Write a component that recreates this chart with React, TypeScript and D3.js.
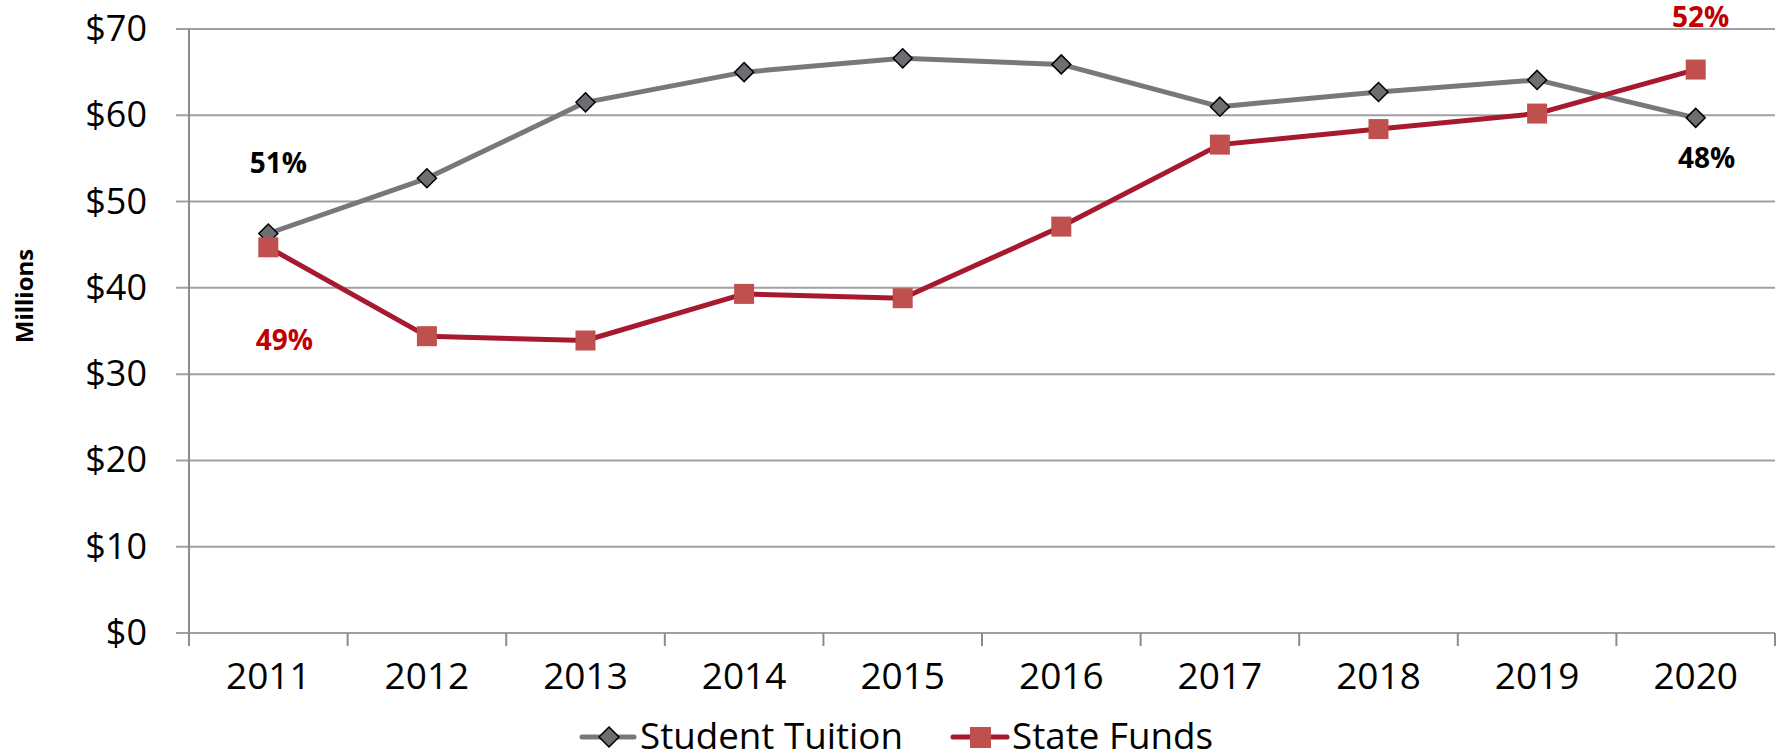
import React from "react";
import * as d3 from "d3";

const years = ["2011", "2012", "2013", "2014", "2015", "2016", "2017", "2018", "2019", "2020"];
const tuition = [46.3, 52.7, 61.5, 65.0, 66.6, 65.9, 61.0, 62.7, 64.1, 59.7];
const stateFunds = [44.7, 34.4, 33.9, 39.3, 38.8, 47.1, 56.6, 58.4, 60.2, 65.3];
const yTicks = [0, 10, 20, 30, 40, 50, 60, 70];
const legendLabels = ["Student Tuition", "State Funds"];
const tuitionShares = ["51%", "48%"];
const stateShares = ["49%", "52%"];

const W = 1781;
const H = 756;
const FONT = "'Open Sans', sans-serif";

export default function App() {
  const left = 189;
  const right = 1775;
  const top = 29;
  const bottom = 633;

  const x = d3.scaleBand<string>().domain(years).range([left, right]).paddingInner(0).paddingOuter(0);
  const y = d3.scaleLinear().domain([0, 70]).range([bottom, top]);
  const cx = (yr: string) => (x(yr) as number) + x.bandwidth() / 2;

  const line = d3
    .line<number>()
    .x((_, i) => cx(years[i]))
    .y((d) => y(d));

  const tuitionColor = "#77787B";
  const stateLine = "#A6192E";
  const stateMarker = "#C0504D";
  const gridColor = "#A0A0A0";
  const axisColor = "#8C8C8C";

  const diamond = (px: number, py: number, r: number) =>
    `M${px},${py - r}L${px + r},${py}L${px},${py + r}L${px - r},${py}Z`;

  const boundaries = d3.range(years.length + 1).map((i) => left + i * x.bandwidth());

  const first = years[0];
  const last = years[years.length - 1];

  return (
    <svg
      width={W}
      height={H}
      style={{ position: "absolute", left: 0, top: 0, background: "#fff" }}
      fontFamily={FONT}
    >
      {/* gridlines */}
      {yTicks.map((t) => (
        <line key={"g" + t} x1={176} x2={right} y1={y(t)} y2={y(t)} stroke={gridColor} strokeWidth={2} />
      ))}
      {/* y axis line */}
      <line x1={left} x2={left} y1={top} y2={bottom + 13} stroke={axisColor} strokeWidth={2} />
      {/* x ticks */}
      {boundaries.map((b, i) => (
        <line key={"xt" + i} x1={b} x2={b} y1={bottom} y2={bottom + 13} stroke={axisColor} strokeWidth={2} />
      ))}
      {/* y labels */}
      {yTicks.map((t) => (
        <text key={"yl" + t} x={147} y={y(t) + 12} textAnchor="end" fontSize={36} fill="#000">
          {"$" + t}
        </text>
      ))}
      {/* Millions */}
      <text
        transform={`translate(33,296) rotate(-90)`}
        textAnchor="middle"
        fontSize={24}
        fontWeight="bold"
        fill="#000"
      >
        Millions
      </text>
      {/* x labels */}
      {years.map((yr) => (
        <text key={"xl" + yr} x={cx(yr)} y={689} textAnchor="middle" fontSize={37} fill="#000">
          {yr}
        </text>
      ))}
      {/* lines */}
      <path d={line(tuition) || ""} fill="none" stroke={tuitionColor} strokeWidth={5} strokeLinejoin="round" />
      <path d={line(stateFunds) || ""} fill="none" stroke={stateLine} strokeWidth={5} strokeLinejoin="round" />
      {/* tuition markers */}
      {tuition.map((v, i) => (
        <path
          key={"tm" + i}
          d={diamond(cx(years[i]), y(v), 9.5)}
          fill="#6D6E71"
          stroke="#000"
          strokeWidth={1.5}
        />
      ))}
      {/* state markers */}
      {stateFunds.map((v, i) => (
        <rect
          key={"sm" + i}
          x={cx(years[i]) - 10}
          y={y(v) - 10}
          width={20}
          height={20}
          fill={stateMarker}
        />
      ))}
      {/* share labels */}
      <text x={cx(first) + 10} y={173} textAnchor="middle" fontSize={28} fontWeight="bold" fill="#000">
        {tuitionShares[0]}
      </text>
      <text x={cx(last) + 11} y={168} textAnchor="middle" fontSize={28} fontWeight="bold" fill="#000">
        {tuitionShares[1]}
      </text>
      <text x={cx(first) + 16} y={350} textAnchor="middle" fontSize={28} fontWeight="bold" fill="#C00000">
        {stateShares[0]}
      </text>
      <text x={cx(last) + 5} y={27} textAnchor="middle" fontSize={28} fontWeight="bold" fill="#C00000">
        {stateShares[1]}
      </text>
      {/* legend */}
      <g>
        <line x1={582} x2={634} y1={737} y2={737} stroke={tuitionColor} strokeWidth={5} strokeLinecap="round" />
        <path d={diamond(609, 737, 10)} fill="#6D6E71" stroke="#000" strokeWidth={1.5} />
        <text x={640} y={749} fontSize={36} fill="#000" textLength={263} lengthAdjust="spacingAndGlyphs">
          {legendLabels[0]}
        </text>
        <line x1={953} x2={1007} y1={737} y2={737} stroke={stateLine} strokeWidth={5} strokeLinecap="round" />
        <rect x={970} y={727} width={21} height={21} fill={stateMarker} />
        <text x={1012} y={749} fontSize={36} fill="#000" textLength={201} lengthAdjust="spacingAndGlyphs">
          {legendLabels[1]}
        </text>
      </g>
    </svg>
  );
}
